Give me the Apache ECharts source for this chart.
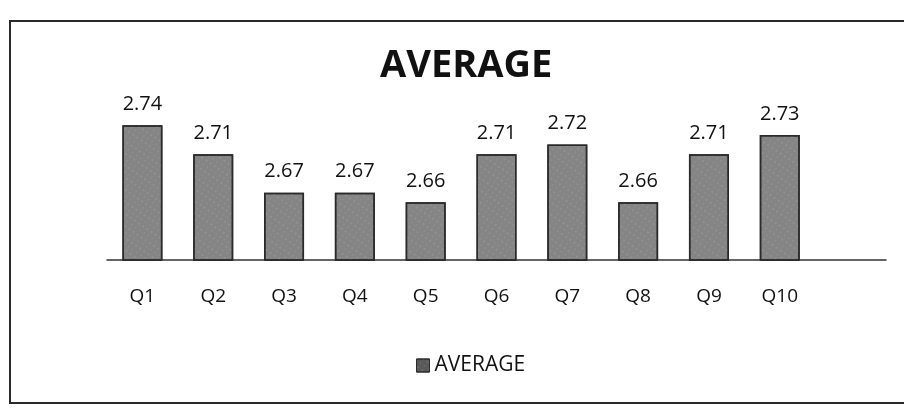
<!DOCTYPE html>
<html>
<head>
<meta charset="utf-8">
<script src="https://cdn.jsdelivr.net/npm/echarts@6/dist/echarts.min.js"></script>
<style>
html,body{margin:0;padding:0;background:#fff;overflow:hidden;}
#frame{position:absolute;left:9px;top:20px;width:910px;height:384px;border:2px solid #2a2a2a;box-sizing:border-box;}
#chart{position:absolute;left:0;top:0;width:904px;height:410px;}
</style>
</head>
<body>
<div id="frame"></div>
<div id="chart"></div>
<script>
var categories = ['Q1','Q2','Q3','Q4','Q5','Q6','Q7','Q8','Q9','Q10'];
var averageValues = [2.74, 2.71, 2.67, 2.67, 2.66, 2.71, 2.72, 2.66, 2.71, 2.73];
var seriesName = 'AVERAGE';
var chartTitle = 'AVERAGE';

var chart = echarts.init(document.getElementById('chart'), null, {renderer:'canvas'});
var font = '"Open Sans", "DejaVu Sans", sans-serif';
chart.setOption({
  animation: false,
  backgroundColor: 'transparent',
  title: {
    text: chartTitle,
    left: 375,
    top: 42,
    textStyle: {fontFamily: font, fontSize: 38, fontWeight: 'bold', color: '#111'}
  },
  legend: {
    data: [{name: seriesName, icon: 'rect', itemStyle: {color: '#5a5a5a', borderColor: '#2a2a2a', borderWidth: 1}}],
    left: 411,
    top: 350,
    itemWidth: 13,
    itemHeight: 13,
    itemGap: 6,
    textStyle: {fontFamily: font, fontSize: 21, color: '#111'}
  },
  grid: {left: 107, right: 18, top: 106, bottom: 150},
  xAxis: {
    type: 'category',
    data: categories,
    max: categories.length,
    axisLine: {show: true, lineStyle: {color: '#333', width: 1.5}},
    axisTick: {show: false},
    axisLabel: {
      interval: 0,
      margin: 27,
      fontFamily: font, fontSize: 19, color: '#111',
      formatter: function (v) { return v == null || v === 'undefined' ? '' : v; }
    }
  },
  yAxis: {
    type: 'value',
    min: 2.6,
    max: 2.76,
    show: false,
    splitLine: {show: false}
  },
  series: [{
    name: seriesName,
    type: 'bar',
    data: averageValues,
    barWidth: 40,
    itemStyle: {
      color: '#858585',
      borderColor: '#2a2a2a',
      borderWidth: 1.5,
      decal: {
        symbol: 'rect',
        symbolSize: 0.6,
        color: 'rgba(215,215,215,0.45)',
        dashArrayX: [[2, 3], [1, 4]],
        dashArrayY: [2, 3],
        rotation: 0.6
      }
    },
    label: {
      show: true,
      position: 'top',
      distance: 11,
      fontFamily: font, fontSize: 20, color: '#111',
      formatter: function (p) { return p.value.toFixed(2); }
    }
  }]
});
</script>
</body>
</html>
